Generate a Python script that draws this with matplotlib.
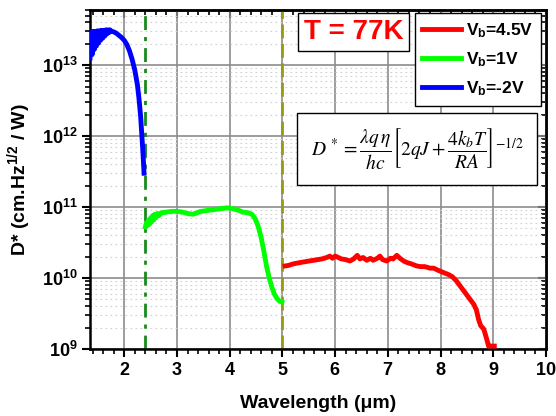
import numpy as np
import matplotlib
matplotlib.use('Agg')
import matplotlib.pyplot as plt
from matplotlib.ticker import MultipleLocator, FuncFormatter, LogLocator, NullFormatter

plt.rcParams['font.family'] = ['Liberation Sans', 'DejaVu Sans']
plt.rcParams['mathtext.fontset'] = 'custom'
plt.rcParams['mathtext.rm'] = 'Liberation Sans:bold'
plt.rcParams['mathtext.bf'] = 'Liberation Sans:bold'
plt.rcParams['mathtext.it'] = 'Liberation Sans:bold:italic'

# Vb = -2V
blue_x = [1.35, 1.37, 1.39, 1.41, 1.43, 1.45, 1.47, 1.49, 1.51, 1.53, 1.55, 1.57,
          1.59, 1.61, 1.63, 1.65, 1.67, 1.69, 1.71, 1.73, 1.75, 1.80, 1.85, 1.90,
          1.95, 2.00, 2.05, 2.10, 2.15, 2.20, 2.25, 2.28, 2.31, 2.33, 2.35, 2.365, 2.375]
blue_d = [1.26e13, 2.95e13, 1.41e13, 3.0e13, 1.66e13, 3.0e13, 1.86e13, 3.05e13, 2.04e13,
          3.05e13, 2.24e13, 3.1e13, 2.40e13, 3.1e13, 2.57e13, 3.15e13, 2.75e13, 3.15e13,
          2.88e13, 3.15e13, 3.02e13, 2.95e13, 2.82e13, 2.63e13, 2.45e13, 2.24e13, 1.95e13,
          1.58e13, 1.20e13, 8.5e12, 5.25e12, 3.31e12, 1.91e12, 1.12e12, 6.6e11, 4.17e11, 3.0e11]

# Vb = 1V
green_x = [2.40, 2.42, 2.44, 2.46, 2.48, 2.50, 2.52, 2.54, 2.56, 2.58, 2.60, 2.63, 2.66,
           2.70, 2.80, 2.90, 3.00, 3.10, 3.20, 3.30, 3.38, 3.45, 3.55, 3.65, 3.75, 3.85,
           3.95, 4.05, 4.15, 4.25, 4.35, 4.42, 4.48, 4.54, 4.60, 4.65, 4.70, 4.75, 4.80,
           4.85, 4.90, 4.95, 4.99]
green_d = [5.25e10, 6.03e10, 5.5e10, 6.6e10, 5.75e10, 7.08e10, 6.17e10, 7.59e10, 6.6e10,
           7.94e10, 7.08e10, 8.13e10, 7.59e10, 8.32e10, 8.51e10, 8.71e10, 8.71e10, 8.51e10,
           8.13e10, 7.94e10, 8.32e10, 8.71e10, 8.91e10, 9.12e10, 9.33e10, 9.55e10, 9.77e10,
           9.55e10, 9.12e10, 8.51e10, 8.32e10, 7.94e10, 6.92e10, 5.37e10, 3.63e10, 2.34e10,
           1.45e10, 1.0e10, 7.4e9, 5.9e9, 5.1e9, 4.7e9, 4.6e9]

# Vb = 4.5V
red_x = [5.05, 5.12, 5.20, 5.27, 5.35, 5.43, 5.51, 5.59, 5.67, 5.75, 5.84, 5.90, 5.95,
         6.00, 6.06, 6.12, 6.20, 6.28, 6.35, 6.42, 6.47, 6.53, 6.60, 6.67, 6.72, 6.80,
         6.85, 6.90, 6.98, 7.05, 7.10, 7.17, 7.23, 7.30, 7.36, 7.45, 7.55, 7.62, 7.70,
         7.80, 7.87, 7.95, 8.05, 8.15, 8.22, 8.30, 8.40, 8.48, 8.56, 8.63, 8.68, 8.72,
         8.76, 8.82, 8.86, 8.89, 8.91, 8.95, 9.02]
red_d = [1.48e10, 1.51e10, 1.58e10, 1.62e10, 1.66e10, 1.70e10, 1.74e10, 1.78e10, 1.82e10,
         1.86e10, 1.95e10, 2.04e10, 1.90e10, 2.04e10, 1.95e10, 1.86e10, 1.82e10, 1.74e10,
         1.86e10, 2.09e10, 1.86e10, 1.95e10, 1.78e10, 1.90e10, 1.78e10, 1.90e10, 2.04e10,
         1.82e10, 1.74e10, 1.90e10, 1.86e10, 2.09e10, 1.90e10, 1.74e10, 1.66e10, 1.58e10,
         1.48e10, 1.45e10, 1.45e10, 1.38e10, 1.38e10, 1.29e10, 1.20e10, 1.12e10, 1.05e10,
         9.12e9, 7.24e9, 6.03e9, 5.01e9, 4.27e9, 3.55e9, 2.63e9, 2.14e9, 1.91e9, 1.51e9,
         1.26e9, 1.10e9, 1.10e9, 1.10e9]

labels = [r'V$_\mathbf{b}$=4.5V', r'V$_\mathbf{b}$=1V', r'V$_\mathbf{b}$=-2V']
cutoffs = [2.4, 5.0]

fig = plt.figure(figsize=(5.56, 4.16), dpi=100)
ax = fig.add_axes([0.1619, 0.161, 0.8201, 0.815])

ax.set_yscale('log')
ax.set_xlim(1.35, 10)
ax.set_ylim(1e9, 6e13)

ax.grid(True, which='major', color='#8c8c8c', lw=1.2, zorder=0)
ax.grid(True, which='minor', axis='y', color='#d0d0d0', lw=0.8, ls=(0, (1.5, 3)), zorder=0)
ax.set_axisbelow(True)

ax.axvline(cutoffs[0], color='#1a8a1a', lw=2, ls=(0, (5, 2.5, 1.5, 2.5)), zorder=2)
ax.axvline(cutoffs[1], color='#9a9a10', lw=2, ls=(0, (5, 2)), zorder=2)

l1, = ax.plot(red_x, red_d, color='#ff0000', lw=3.5, zorder=3)
l2, = ax.plot(green_x, green_d, color='#00ff00', lw=3.5, zorder=3)
l3, = ax.plot(blue_x, blue_d, color='#0000ff', lw=3.5, zorder=3)

ax.xaxis.set_major_locator(MultipleLocator(1))
ax.xaxis.set_minor_locator(MultipleLocator(0.2))
ax.yaxis.set_major_locator(LogLocator(base=10, numticks=10))
ax.yaxis.set_minor_locator(LogLocator(base=10, subs=np.arange(2, 10), numticks=20))
ax.yaxis.set_minor_formatter(NullFormatter())
ax.yaxis.set_major_formatter(FuncFormatter(lambda v, p: r'$\mathbf{10^{%d}}$' % round(np.log10(v))))
ax.xaxis.set_major_formatter(FuncFormatter(lambda v, p: r'$\mathbf{%d}$' % round(v)))

ax.tick_params(which='major', direction='out', length=6, width=1.5, labelsize=13, pad=3)
ax.tick_params(which='minor', direction='out', length=3.5, width=1.2)
for sp in ax.spines.values():
    sp.set_linewidth(1.8)

top = ax.secondary_xaxis('top')
top.xaxis.set_major_locator(MultipleLocator(1))
top.xaxis.set_minor_locator(MultipleLocator(0.2))
top.tick_params(which='major', direction='in', length=6, width=1.5, labeltop=False)
top.tick_params(which='minor', direction='in', length=3.5, width=1.2)
top.spines['top'].set_linewidth(1.8)

right = ax.secondary_yaxis('right')
right.yaxis.set_major_locator(LogLocator(base=10, numticks=10))
right.yaxis.set_minor_locator(LogLocator(base=10, subs=np.arange(2, 10), numticks=20))
right.tick_params(which='major', direction='in', length=6, width=1.5, labelright=False)
right.tick_params(which='minor', direction='in', length=3.5, width=1.2, labelright=False)
right.spines['right'].set_linewidth(1.8)

ax.set_xlabel('Wavelength (\u03bcm)', fontsize=14, fontweight='bold', labelpad=12)
ax.set_ylabel(r'D* (cm.Hz$^{1/2}$ / W)', fontsize=14, fontweight='bold', labelpad=6)

leg = ax.legend([l1, l2, l3], labels, loc='upper right', bbox_to_anchor=(0.989, 0.99),
                borderaxespad=0, fancybox=False, edgecolor='black', framealpha=1,
                prop={'size': 12.5, 'weight': 'bold'}, handlelength=2.2,
                labelspacing=0.6, handletextpad=0.3, borderpad=0.45)
leg.get_frame().set_linewidth(1.0)
leg.set_zorder(5)

ax.text(0.578, 0.934, 'T = 77K', transform=ax.transAxes, color='#ff0000', fontsize=20,
        fontweight='bold', ha='center', va='center', zorder=5,
        bbox=dict(boxstyle='square,pad=0.22', fc='white', ec='black', lw=1.0))

ax.text(0.718, 0.591,
        r'$D^{\,*} = \dfrac{\lambda q\,\eta}{hc}\left[2qJ + \dfrac{4k_bT}{RA}\right]^{-1/2}$',
        transform=ax.transAxes, fontsize=14, fontweight='normal', ha='center', va='center',
        math_fontfamily='stix', zorder=5,
        bbox=dict(boxstyle='square,pad=0.7', fc='white', ec='black', lw=1.0))

fig.savefig('out.png', dpi=100)
